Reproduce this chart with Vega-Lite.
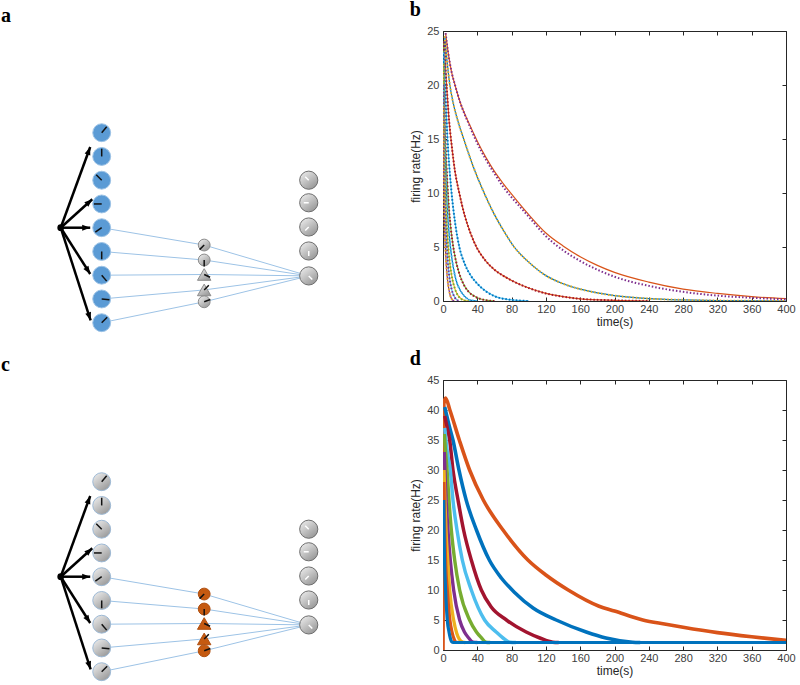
{
"$schema": "https://vega.github.io/schema/vega-lite/v6.json",
"padding": {"left": 0, "top": 0, "right": 0, "bottom": 0},
"background": "white",
"config": {
  "view": {"stroke": null},
  "axis": {"domainColor": "#262626", "tickColor": "#262626", "tickSize": -4, "labelPadding": 8, "grid": false, "labelFont": "Liberation Sans", "labelFontSize": 11, "labelColor": "#404040", "titleFont": "Liberation Sans", "titleFontSize": 12, "titleFontWeight": "normal", "titleColor": "#262626", "titlePadding": 4, "labelFlush": false, "labelOverlap": false},
  "axisX": {"labelPadding": 6, "titlePadding": 2},
  "title": {"font": "Liberation Serif", "fontSize": 20, "fontWeight": "bold", "anchor": "start", "color": "black", "baseline": "top", "offset": 5, "frame": "bounds"}
},
"datasets": {
  "nodes": [
    {"role": "input", "x": 1, "y": 1, "shape": "circle", "ang": 40},
    {"role": "input", "x": 1, "y": 2, "shape": "circle", "ang": 0},
    {"role": "input", "x": 1, "y": 3, "shape": "circle", "ang": 315},
    {"role": "input", "x": 1, "y": 4, "shape": "circle", "ang": 270},
    {"role": "input", "x": 1, "y": 5, "shape": "circle", "ang": 235},
    {"role": "input", "x": 1, "y": 6, "shape": "circle", "ang": 180},
    {"role": "input", "x": 1, "y": 7, "shape": "circle", "ang": 140},
    {"role": "input", "x": 1, "y": 8, "shape": "circle", "ang": 95},
    {"role": "input", "x": 1, "y": 9, "shape": "circle", "ang": 45},
    {"role": "hidden", "x": 3.5, "y": 5.73, "shape": "circle", "ang": 225},
    {"role": "hidden", "x": 3.5, "y": 6.36, "shape": "circle", "ang": 180},
    {"role": "hidden", "x": 3.5, "y": 6.97, "shape": "triangle", "ang": 115},
    {"role": "hidden", "x": 3.5, "y": 7.62, "shape": "triangle", "ang": 45},
    {"role": "hidden", "x": 3.5, "y": 8.12, "shape": "circle", "ang": 70},
    {"role": "output", "x": 6.05, "y": 3, "shape": "circle", "ang": 315},
    {"role": "output", "x": 6.05, "y": 3.95, "shape": "circle", "ang": 270},
    {"role": "output", "x": 6.05, "y": 4.97, "shape": "circle", "ang": 225},
    {"role": "output", "x": 6.05, "y": 5.98, "shape": "circle", "ang": 180},
    {"role": "output", "x": 6.05, "y": 7.03, "shape": "circle", "ang": 135}
  ],
  "links": [
    {"x": 1, "y": 5, "x2": 3.5, "y2": 5.73},
    {"x": 1, "y": 6, "x2": 3.5, "y2": 6.36},
    {"x": 1, "y": 7, "x2": 3.5, "y2": 6.97},
    {"x": 1, "y": 8, "x2": 3.5, "y2": 7.62},
    {"x": 1, "y": 9, "x2": 3.5, "y2": 8.12},
    {"x": 3.5, "y": 5.73, "x2": 6.05, "y2": 7.03},
    {"x": 3.5, "y": 6.36, "x2": 6.05, "y2": 7.03},
    {"x": 3.5, "y": 6.97, "x2": 6.05, "y2": 7.03},
    {"x": 3.5, "y": 7.62, "x2": 6.05, "y2": 7.03},
    {"x": 3.5, "y": 8.12, "x2": 6.05, "y2": 7.03}
  ],
  "arrows": [
    {"x": 0, "y": 5, "x2": 0.72, "y2": 1.6, "ang": 20},
    {"x": 0, "y": 5, "x2": 0.77, "y2": 3.8, "ang": 48},
    {"x": 0, "y": 5, "x2": 0.72, "y2": 5, "ang": 90},
    {"x": 0, "y": 5, "x2": 0.72, "y2": 6.95, "ang": 147.5},
    {"x": 0, "y": 5, "x2": 0.73, "y2": 8.9, "ang": 162}
  ],
  "src": [{"x": 0, "y": 5}],
  "bsim": [
    {"c":"A","t":3,"r":24.8},{"c":"A","t":6,"r":23},{"c":"A","t":10,"r":21.2},{"c":"A","t":14,"r":20},{"c":"A","t":20,"r":18.4},{"c":"A","t":30,"r":16.5},{"c":"A","t":40,"r":14.8},{"c":"A","t":50,"r":13.3},{"c":"A","t":60,"r":12},{"c":"A","t":70,"r":10.9},{"c":"A","t":80,"r":9.9},{"c":"A","t":100,"r":8},{"c":"A","t":120,"r":6.3},{"c":"A","t":140,"r":5.1},{"c":"A","t":160,"r":4.1},{"c":"A","t":180,"r":3.3},{"c":"A","t":200,"r":2.65},{"c":"A","t":240,"r":1.75},{"c":"A","t":280,"r":1.1},{"c":"A","t":320,"r":0.7},{"c":"A","t":360,"r":0.4},{"c":"A","t":400,"r":0.22},
    {"c":"B","t":2,"r":24.5},{"c":"B","t":5,"r":22},{"c":"B","t":8,"r":20},{"c":"B","t":12,"r":18.3},{"c":"B","t":18,"r":16.5},{"c":"B","t":25,"r":14.8},{"c":"B","t":35,"r":12.5},{"c":"B","t":48,"r":10},{"c":"B","t":60,"r":8},{"c":"B","t":70,"r":6.6},{"c":"B","t":83,"r":5},{"c":"B","t":100,"r":3.6},{"c":"B","t":120,"r":2.35},{"c":"B","t":140,"r":1.6},{"c":"B","t":160,"r":1.1},{"c":"B","t":180,"r":0.75},{"c":"B","t":200,"r":0.5},{"c":"B","t":240,"r":0.22},{"c":"B","t":280,"r":0.1},{"c":"B","t":320,"r":0.04},{"c":"B","t":400,"r":0},
    {"c":"C","t":1.5,"r":24},{"c":"C","t":3,"r":21.5},{"c":"C","t":5,"r":19},{"c":"C","t":7,"r":16.8},{"c":"C","t":10,"r":14.5},{"c":"C","t":14,"r":12},{"c":"C","t":19,"r":10},{"c":"C","t":25,"r":8},{"c":"C","t":32,"r":6.3},{"c":"C","t":39,"r":5},{"c":"C","t":50,"r":3.7},{"c":"C","t":60,"r":2.9},{"c":"C","t":70,"r":2.35},{"c":"C","t":80,"r":1.9},{"c":"C","t":100,"r":1.2},{"c":"C","t":120,"r":0.7},{"c":"C","t":140,"r":0.4},{"c":"C","t":160,"r":0.2},{"c":"C","t":200,"r":0.06},{"c":"C","t":240,"r":0},
    {"c":"D","t":1,"r":24},{"c":"D","t":2,"r":21},{"c":"D","t":4,"r":17},{"c":"D","t":6,"r":14},{"c":"D","t":8,"r":11.8},{"c":"D","t":10,"r":10},{"c":"D","t":14,"r":7.3},{"c":"D","t":19,"r":5},{"c":"D","t":25,"r":3.5},{"c":"D","t":32,"r":2.4},{"c":"D","t":40,"r":1.6},{"c":"D","t":50,"r":0.9},{"c":"D","t":60,"r":0.45},{"c":"D","t":75,"r":0.15},{"c":"D","t":100,"r":0},
    {"c":"E","t":0.5,"r":24},{"c":"E","t":1.5,"r":19},{"c":"E","t":3,"r":14.5},{"c":"E","t":5,"r":11},{"c":"E","t":7,"r":8.5},{"c":"E","t":9,"r":6.8},{"c":"E","t":12,"r":5},{"c":"E","t":16,"r":3.4},{"c":"E","t":20,"r":2.3},{"c":"E","t":25,"r":1.4},{"c":"E","t":30,"r":0.85},{"c":"E","t":40,"r":0.3},{"c":"E","t":50,"r":0.08},{"c":"E","t":60,"r":0},
    {"c":"F","t":0.5,"r":23},{"c":"F","t":1.5,"r":17},{"c":"F","t":3,"r":12},{"c":"F","t":5,"r":8.5},{"c":"F","t":8,"r":5.5},{"c":"F","t":11,"r":3.6},{"c":"F","t":15,"r":2},{"c":"F","t":20,"r":1},{"c":"F","t":25,"r":0.45},{"c":"F","t":33,"r":0.05},{"c":"F","t":40,"r":0},
    {"c":"G","t":0.5,"r":22},{"c":"G","t":1.5,"r":14.5},{"c":"G","t":3,"r":9.5},{"c":"G","t":5,"r":6.2},{"c":"G","t":7,"r":4.2},{"c":"G","t":10,"r":2.4},{"c":"G","t":14,"r":1.1},{"c":"G","t":18,"r":0.45},{"c":"G","t":25,"r":0.05},{"c":"G","t":30,"r":0},
    {"c":"H","t":0.4,"r":20},{"c":"H","t":1,"r":14},{"c":"H","t":2,"r":9.5},{"c":"H","t":3,"r":7},{"c":"H","t":5,"r":4.2},{"c":"H","t":7,"r":2.5},{"c":"H","t":10,"r":1.1},{"c":"H","t":14,"r":0.3},{"c":"H","t":18,"r":0},
    {"c":"I","t":0.3,"r":18},{"c":"I","t":0.8,"r":12},{"c":"I","t":1.5,"r":8},{"c":"I","t":3,"r":4.5},{"c":"I","t":5,"r":2.2},{"c":"I","t":7,"r":1},{"c":"I","t":10,"r":0.2},{"c":"I","t":13,"r":0}
  ],
  "bfit": [
    {"c":"A","t":3,"r":24.8},{"c":"A","t":6,"r":23},{"c":"A","t":10,"r":21.2},{"c":"A","t":14,"r":20},{"c":"A","t":20,"r":18.4},{"c":"A","t":30,"r":16.4},{"c":"A","t":40,"r":14.6},{"c":"A","t":50,"r":13.1},{"c":"A","t":60,"r":11.8},{"c":"A","t":70,"r":10.6},{"c":"A","t":80,"r":9.6},{"c":"A","t":90,"r":8.7},{"c":"A","t":100,"r":7.8},{"c":"A","t":120,"r":6},{"c":"A","t":140,"r":4.7},{"c":"A","t":160,"r":3.7},{"c":"A","t":180,"r":2.9},{"c":"A","t":200,"r":2.25},{"c":"A","t":240,"r":1.4},{"c":"A","t":280,"r":0.85},{"c":"A","t":320,"r":0.5},{"c":"A","t":360,"r":0.3},{"c":"A","t":400,"r":0.15},
    {"c":"B","t":2,"r":24.5},{"c":"B","t":5,"r":22},{"c":"B","t":8,"r":20},{"c":"B","t":12,"r":18.3},{"c":"B","t":18,"r":16.5},{"c":"B","t":25,"r":14.8},{"c":"B","t":35,"r":12.5},{"c":"B","t":48,"r":10},{"c":"B","t":60,"r":8},{"c":"B","t":70,"r":6.6},{"c":"B","t":83,"r":5},{"c":"B","t":100,"r":3.6},{"c":"B","t":120,"r":2.35},{"c":"B","t":140,"r":1.6},{"c":"B","t":160,"r":1.1},{"c":"B","t":180,"r":0.75},{"c":"B","t":200,"r":0.5},{"c":"B","t":240,"r":0.22},{"c":"B","t":280,"r":0.1},{"c":"B","t":320,"r":0.04},{"c":"B","t":400,"r":0},
    {"c":"C","t":1.5,"r":24},{"c":"C","t":3,"r":21.5},{"c":"C","t":5,"r":19},{"c":"C","t":7,"r":16.8},{"c":"C","t":10,"r":14.5},{"c":"C","t":14,"r":12},{"c":"C","t":19,"r":10},{"c":"C","t":25,"r":8},{"c":"C","t":32,"r":6.3},{"c":"C","t":39,"r":5},{"c":"C","t":50,"r":3.7},{"c":"C","t":60,"r":2.9},{"c":"C","t":70,"r":2.35},{"c":"C","t":80,"r":1.9},{"c":"C","t":100,"r":1.2},{"c":"C","t":120,"r":0.7},{"c":"C","t":140,"r":0.4},{"c":"C","t":160,"r":0.2},{"c":"C","t":200,"r":0.06},{"c":"C","t":240,"r":0},
    {"c":"D","t":1,"r":24},{"c":"D","t":2,"r":21},{"c":"D","t":4,"r":17},{"c":"D","t":6,"r":14},{"c":"D","t":8,"r":11.8},{"c":"D","t":10,"r":10},{"c":"D","t":14,"r":7.3},{"c":"D","t":19,"r":5},{"c":"D","t":25,"r":3.5},{"c":"D","t":32,"r":2.4},{"c":"D","t":40,"r":1.6},{"c":"D","t":50,"r":0.9},{"c":"D","t":60,"r":0.45},{"c":"D","t":75,"r":0.15},{"c":"D","t":100,"r":0},
    {"c":"E","t":0.5,"r":24},{"c":"E","t":1.5,"r":19},{"c":"E","t":3,"r":14.5},{"c":"E","t":5,"r":11},{"c":"E","t":7,"r":8.5},{"c":"E","t":9,"r":6.8},{"c":"E","t":12,"r":5},{"c":"E","t":16,"r":3.4},{"c":"E","t":20,"r":2.3},{"c":"E","t":25,"r":1.4},{"c":"E","t":30,"r":0.85},{"c":"E","t":40,"r":0.3},{"c":"E","t":50,"r":0.08},{"c":"E","t":60,"r":0},
    {"c":"F","t":0.5,"r":23},{"c":"F","t":1.5,"r":17},{"c":"F","t":3,"r":12},{"c":"F","t":5,"r":8.5},{"c":"F","t":8,"r":5.5},{"c":"F","t":11,"r":3.6},{"c":"F","t":15,"r":2},{"c":"F","t":20,"r":1},{"c":"F","t":25,"r":0.45},{"c":"F","t":33,"r":0.05},{"c":"F","t":40,"r":0},
    {"c":"G","t":0.5,"r":22},{"c":"G","t":1.5,"r":14.5},{"c":"G","t":3,"r":9.5},{"c":"G","t":5,"r":6.2},{"c":"G","t":7,"r":4.2},{"c":"G","t":10,"r":2.4},{"c":"G","t":14,"r":1.1},{"c":"G","t":18,"r":0.45},{"c":"G","t":25,"r":0.05},{"c":"G","t":30,"r":0},
    {"c":"H","t":0.4,"r":20},{"c":"H","t":1,"r":14},{"c":"H","t":2,"r":9.5},{"c":"H","t":3,"r":7},{"c":"H","t":5,"r":4.2},{"c":"H","t":7,"r":2.5},{"c":"H","t":10,"r":1.1},{"c":"H","t":14,"r":0.3},{"c":"H","t":18,"r":0},
    {"c":"I","t":0.3,"r":18},{"c":"I","t":0.8,"r":12},{"c":"I","t":1.5,"r":8},{"c":"I","t":3,"r":4.5},{"c":"I","t":5,"r":2.2},{"c":"I","t":7,"r":1},{"c":"I","t":10,"r":0.2},{"c":"I","t":13,"r":0}
  ],
  "dsim": [
    {"c":"O","t":0,"r":0},{"c":"O","t":1,"r":41},{"c":"O","t":3,"r":42},{"c":"O","t":8,"r":40},{"c":"O","t":19,"r":35},{"c":"O","t":31,"r":30},{"c":"O","t":47,"r":25},{"c":"O","t":70,"r":20},{"c":"O","t":99,"r":15},{"c":"O","t":120,"r":12.5},{"c":"O","t":146,"r":10},{"c":"O","t":182,"r":7.3},{"c":"O","t":200,"r":6.5},{"c":"O","t":233,"r":5},{"c":"O","t":260,"r":4.3},{"c":"O","t":280,"r":3.8},{"c":"O","t":320,"r":2.9},{"c":"O","t":360,"r":2.2},{"c":"O","t":400,"r":1.6},
    {"c":"B1","t":2,"r":40.5},{"c":"B1","t":7,"r":37.5},{"c":"B1","t":11.6,"r":35},{"c":"B1","t":18.6,"r":30},{"c":"B1","t":27,"r":25},{"c":"B1","t":39,"r":20},{"c":"B1","t":54,"r":15},{"c":"B1","t":68,"r":12},{"c":"B1","t":83.5,"r":9.6},{"c":"B1","t":105,"r":7},{"c":"B1","t":132,"r":5},{"c":"B1","t":167,"r":3},{"c":"B1","t":190,"r":2},{"c":"B1","t":221,"r":1.3},{"c":"B1","t":230,"r":1.25},
    {"c":"R","t":2,"r":39},{"c":"R","t":5,"r":37},{"c":"R","t":7.8,"r":35},{"c":"R","t":11.6,"r":30},{"c":"R","t":17.5,"r":25},{"c":"R","t":24,"r":20},{"c":"R","t":33,"r":15},{"c":"R","t":44.7,"r":10},{"c":"R","t":56,"r":7.2},{"c":"R","t":74,"r":5},{"c":"R","t":97,"r":3},{"c":"R","t":113,"r":2},{"c":"R","t":128,"r":1.3},{"c":"R","t":135,"r":1.25},
    {"c":"LB","t":2,"r":37},{"c":"LB","t":5,"r":33},{"c":"LB","t":8.5,"r":30},{"c":"LB","t":11.6,"r":25},{"c":"LB","t":16.3,"r":20},{"c":"LB","t":22.5,"r":15},{"c":"LB","t":33,"r":10},{"c":"LB","t":48.5,"r":5},{"c":"LB","t":62,"r":3},{"c":"LB","t":70,"r":2},{"c":"LB","t":78,"r":1.3},{"c":"LB","t":85,"r":1.25},
    {"c":"G","t":1.5,"r":36},{"c":"G","t":3,"r":33},{"c":"G","t":4.7,"r":30},{"c":"G","t":7,"r":25},{"c":"G","t":9.7,"r":20},{"c":"G","t":13.6,"r":15},{"c":"G","t":19.4,"r":10},{"c":"G","t":31,"r":5},{"c":"G","t":39,"r":3},{"c":"G","t":45,"r":2},{"c":"G","t":50,"r":1.3},{"c":"G","t":55,"r":1.25},
    {"c":"P","t":1.5,"r":33},{"c":"P","t":3,"r":27},{"c":"P","t":5.8,"r":20},{"c":"P","t":8.5,"r":15},{"c":"P","t":12.4,"r":10},{"c":"P","t":19.4,"r":5},{"c":"P","t":25,"r":3},{"c":"P","t":30,"r":2},{"c":"P","t":35,"r":1.3},{"c":"P","t":40,"r":1.25},
    {"c":"Y","t":1.2,"r":30},{"c":"Y","t":2.2,"r":25},{"c":"Y","t":3.5,"r":20},{"c":"Y","t":5.5,"r":15},{"c":"Y","t":7.8,"r":10},{"c":"Y","t":12.4,"r":5},{"c":"Y","t":16,"r":2.8},{"c":"Y","t":19,"r":1.8},{"c":"Y","t":23,"r":1.3},{"c":"Y","t":26,"r":1.25},
    {"c":"O2","t":1,"r":28},{"c":"O2","t":2,"r":20},{"c":"O2","t":3.2,"r":14},{"c":"O2","t":5,"r":10},{"c":"O2","t":8,"r":5},{"c":"O2","t":10.5,"r":3},{"c":"O2","t":13,"r":1.8},{"c":"O2","t":15,"r":1.3},{"c":"O2","t":18,"r":1.25},
    {"c":"B2","t":0.8,"r":25},{"c":"B2","t":1.5,"r":17},{"c":"B2","t":3,"r":10},{"c":"B2","t":5,"r":5},{"c":"B2","t":7,"r":3},{"c":"B2","t":8.5,"r":2},{"c":"B2","t":10,"r":1.4},{"c":"B2","t":12,"r":1.25},{"c":"B2","t":400,"r":1.25}
  ]
},
"columns": 2,
"bounds": "flush",
"spacing": {"row": 79, "column": 43},
"concat": [
  {
    "title": {"text": "a", "dx": 1},
    "width": 400, "height": 270,
    "layer": [
      {"data": {"name": "links"}, "mark": {"type": "rule", "color": "#9dc3e6", "strokeWidth": 1},
       "encoding": {"x": {"field": "x", "type": "quantitative", "scale": {"domain": [-1.4805, 8.276], "nice": false, "zero": false}, "axis": null},
                    "y": {"field": "y", "type": "quantitative", "scale": {"domain": [-3.282, 8.086], "reverse": true, "nice": false, "zero": false}, "axis": null},
                    "x2": {"field": "x2"}, "y2": {"field": "y2"}}},
      {"data": {"name": "arrows"}, "mark": {"type": "rule", "color": "black", "strokeWidth": 2.5},
       "encoding": {"x": {"field": "x", "type": "quantitative", "scale": {"domain": [-1.4805, 8.276], "nice": false, "zero": false}, "axis": null},
                    "y": {"field": "y", "type": "quantitative", "scale": {"domain": [-3.282, 8.086], "reverse": true, "nice": false, "zero": false}, "axis": null},
                    "x2": {"field": "x2"}, "y2": {"field": "y2"}}},
      {"data": {"name": "arrows"}, "mark": {"type": "point", "shape": "M0,0L-0.6,1.6L0.6,1.6Z", "filled": true, "color": "black", "opacity": 1, "size": 100},
       "encoding": {"x": {"field": "x2", "type": "quantitative", "scale": {"domain": [-1.4805, 8.276], "nice": false, "zero": false}, "axis": null},
                    "y": {"field": "y2", "type": "quantitative", "scale": {"domain": [-3.282, 8.086], "reverse": true, "nice": false, "zero": false}, "axis": null},
                    "angle": {"field": "ang", "type": "quantitative", "scale": null}}},
      {"data": {"name": "src"}, "mark": {"type": "point", "shape": "circle", "filled": true, "color": "black", "opacity": 1, "size": 45},
       "encoding": {"x": {"field": "x", "type": "quantitative", "scale": {"domain": [-1.4805, 8.276], "nice": false, "zero": false}, "axis": null},
                    "y": {"field": "y", "type": "quantitative", "scale": {"domain": [-3.282, 8.086], "reverse": true, "nice": false, "zero": false}, "axis": null}}},
      {"data": {"name": "nodes"}, "transform": [{"filter": "datum.role === 'input'"}],
       "mark": {"type": "point", "shape": "circle", "filled": true, "fill": "#5b9bd5", "stroke": "#9dc3e6", "strokeWidth": 1, "opacity": 1, "size": 320},
       "encoding": {"x": {"field": "x", "type": "quantitative", "scale": {"domain": [-1.4805, 8.276], "nice": false, "zero": false}, "axis": null},
                    "y": {"field": "y", "type": "quantitative", "scale": {"domain": [-3.282, 8.086], "reverse": true, "nice": false, "zero": false}, "axis": null}}},
      {"data": {"name": "nodes"}, "transform": [{"filter": "datum.role === 'hidden'"}],
       "mark": {"type": "point", "filled": true, "fill": {"gradient": "linear", "x1": 0.2, "y1": 0.1, "x2": 0.8, "y2": 0.9, "stops": [{"offset": 0, "color": "#e4e4e4"}, {"offset": 1, "color": "#9c9c9c"}]}, "stroke": "#8c8c8c", "strokeWidth": 1, "opacity": 1},
       "encoding": {"x": {"field": "x", "type": "quantitative", "scale": {"domain": [-1.4805, 8.276], "nice": false, "zero": false}, "axis": null},
                    "y": {"field": "y", "type": "quantitative", "scale": {"domain": [-3.282, 8.086], "reverse": true, "nice": false, "zero": false}, "axis": null},
                    "shape": {"field": "shape", "type": "nominal", "scale": {"domain": ["circle", "triangle"], "range": ["circle", "triangle-up"]}, "legend": null},
                    "size": {"field": "shape", "type": "nominal", "scale": {"domain": ["circle", "triangle"], "range": [140, 180]}, "legend": null}}},
      {"data": {"name": "nodes"}, "transform": [{"filter": "datum.role === 'output'"}],
       "mark": {"type": "point", "shape": "circle", "filled": true, "fill": {"gradient": "linear", "x1": 0.2, "y1": 0.1, "x2": 0.8, "y2": 0.9, "stops": [{"offset": 0, "color": "#e4e4e4"}, {"offset": 1, "color": "#9a9a9a"}]}, "stroke": "#6e6e6e", "strokeWidth": 1, "opacity": 1, "size": 330},
       "encoding": {"x": {"field": "x", "type": "quantitative", "scale": {"domain": [-1.4805, 8.276], "nice": false, "zero": false}, "axis": null},
                    "y": {"field": "y", "type": "quantitative", "scale": {"domain": [-3.282, 8.086], "reverse": true, "nice": false, "zero": false}, "axis": null}}},
      {"data": {"name": "nodes"},
       "mark": {"type": "point", "shape": "M0,0L0,-1", "filled": false, "strokeWidth": 1.5, "opacity": 1},
       "encoding": {"x": {"field": "x", "type": "quantitative", "scale": {"domain": [-1.4805, 8.276], "nice": false, "zero": false}, "axis": null},
                    "y": {"field": "y", "type": "quantitative", "scale": {"domain": [-3.282, 8.086], "reverse": true, "nice": false, "zero": false}, "axis": null},
                    "angle": {"field": "ang", "type": "quantitative", "scale": null},
                    "size": {"field": "role", "type": "nominal", "scale": {"domain": ["input", "hidden", "output"], "range": [240, 100, 270]}, "legend": null},
                    "stroke": {"field": "role", "type": "nominal", "scale": {"domain": ["input", "hidden", "output"], "range": ["#111111", "#111111", "#ffffff"]}, "legend": null}}}
    ],
    "resolve": {"scale": {"size": "independent", "shape": "independent"}}
  },
  {
    "title": {"text": "b"},
    "width": 343, "height": 270,
    "layer": [
      {"data": {"name": "bsim"}, "mark": {"type": "line", "interpolate": "monotone", "strokeWidth": 1.2, "clip": true},
       "encoding": {
         "x": {"field": "t", "type": "quantitative", "scale": {"domain": [0, 400], "nice": false}, "axis": {"orient": "bottom", "values": [0, 40, 80, 120, 160, 200, 240, 280, 320, 360, 400], "title": "time(s)"}},
         "y": {"field": "r", "type": "quantitative", "scale": {"domain": [0, 25], "nice": false}, "axis": {"orient": "left", "values": [0, 5, 10, 15, 20, 25], "title": "firing rate(Hz)"}},
         "color": {"field": "c", "type": "nominal", "scale": {"domain": ["A","B","C","D","E","F","G","H","I"], "range": ["#D95319","#0072BD","#D95319","#4DBEEE","#77AC30","#0072BD","#EDB120","#4DBEEE","#7E2F8E"]}, "legend": null}}},
      {"data": {"name": "bfit"}, "mark": {"type": "line", "interpolate": "monotone", "strokeWidth": 2, "strokeDash": [1.5, 2], "clip": true},
       "encoding": {
         "x": {"field": "t", "type": "quantitative", "scale": {"domain": [0, 400], "nice": false}, "axis": {"orient": "top", "values": [0, 40, 80, 120, 160, 200, 240, 280, 320, 360, 400], "labels": false, "title": null}},
         "y": {"field": "r", "type": "quantitative", "scale": {"domain": [0, 25], "nice": false}, "axis": {"orient": "right", "values": [0, 5, 10, 15, 20, 25], "labels": false, "title": null}},
         "color": {"field": "c", "type": "nominal", "scale": {"domain": ["A","B","C","D","E","F","G","H","I"], "range": ["#7E2F8E","#EDB120","#A2142F","#0072BD","#A2142F","#4DBEEE","#77AC30","#7E2F8E","#EDB120"]}, "legend": null}}}
    ],
    "resolve": {"scale": {"color": "independent"}, "axis": {"x": "independent", "y": "independent"}}
  },
  {
    "title": {"text": "c", "dx": 1},
    "width": 400, "height": 270,
    "layer": [
      {"data": {"name": "links"}, "mark": {"type": "rule", "color": "#9dc3e6", "strokeWidth": 1},
       "encoding": {"x": {"field": "x", "type": "quantitative", "scale": {"domain": [-1.4805, 8.276], "nice": false, "zero": false}, "axis": null},
                    "y": {"field": "y", "type": "quantitative", "scale": {"domain": [-3.282, 8.086], "reverse": true, "nice": false, "zero": false}, "axis": null},
                    "x2": {"field": "x2"}, "y2": {"field": "y2"}}},
      {"data": {"name": "arrows"}, "mark": {"type": "rule", "color": "black", "strokeWidth": 2.5},
       "encoding": {"x": {"field": "x", "type": "quantitative", "scale": {"domain": [-1.4805, 8.276], "nice": false, "zero": false}, "axis": null},
                    "y": {"field": "y", "type": "quantitative", "scale": {"domain": [-3.282, 8.086], "reverse": true, "nice": false, "zero": false}, "axis": null},
                    "x2": {"field": "x2"}, "y2": {"field": "y2"}}},
      {"data": {"name": "arrows"}, "mark": {"type": "point", "shape": "M0,0L-0.6,1.6L0.6,1.6Z", "filled": true, "color": "black", "opacity": 1, "size": 100},
       "encoding": {"x": {"field": "x2", "type": "quantitative", "scale": {"domain": [-1.4805, 8.276], "nice": false, "zero": false}, "axis": null},
                    "y": {"field": "y2", "type": "quantitative", "scale": {"domain": [-3.282, 8.086], "reverse": true, "nice": false, "zero": false}, "axis": null},
                    "angle": {"field": "ang", "type": "quantitative", "scale": null}}},
      {"data": {"name": "src"}, "mark": {"type": "point", "shape": "circle", "filled": true, "color": "black", "opacity": 1, "size": 45},
       "encoding": {"x": {"field": "x", "type": "quantitative", "scale": {"domain": [-1.4805, 8.276], "nice": false, "zero": false}, "axis": null},
                    "y": {"field": "y", "type": "quantitative", "scale": {"domain": [-3.282, 8.086], "reverse": true, "nice": false, "zero": false}, "axis": null}}},
      {"data": {"name": "nodes"}, "transform": [{"filter": "datum.role === 'input'"}],
       "mark": {"type": "point", "shape": "circle", "filled": true, "fill": {"gradient": "linear", "x1": 0.2, "y1": 0.1, "x2": 0.8, "y2": 0.9, "stops": [{"offset": 0, "color": "#e4e4e4"}, {"offset": 1, "color": "#9c9c9c"}]}, "stroke": "#9db9d5", "strokeWidth": 1, "opacity": 1, "size": 320},
       "encoding": {"x": {"field": "x", "type": "quantitative", "scale": {"domain": [-1.4805, 8.276], "nice": false, "zero": false}, "axis": null},
                    "y": {"field": "y", "type": "quantitative", "scale": {"domain": [-3.282, 8.086], "reverse": true, "nice": false, "zero": false}, "axis": null}}},
      {"data": {"name": "nodes"}, "transform": [{"filter": "datum.role === 'hidden'"}],
       "mark": {"type": "point", "filled": true, "fill": "#c55a11", "stroke": "#b04f10", "strokeWidth": 1, "opacity": 1},
       "encoding": {"x": {"field": "x", "type": "quantitative", "scale": {"domain": [-1.4805, 8.276], "nice": false, "zero": false}, "axis": null},
                    "y": {"field": "y", "type": "quantitative", "scale": {"domain": [-3.282, 8.086], "reverse": true, "nice": false, "zero": false}, "axis": null},
                    "shape": {"field": "shape", "type": "nominal", "scale": {"domain": ["circle", "triangle"], "range": ["circle", "triangle-up"]}, "legend": null},
                    "size": {"field": "shape", "type": "nominal", "scale": {"domain": ["circle", "triangle"], "range": [140, 180]}, "legend": null}}},
      {"data": {"name": "nodes"}, "transform": [{"filter": "datum.role === 'output'"}],
       "mark": {"type": "point", "shape": "circle", "filled": true, "fill": {"gradient": "linear", "x1": 0.2, "y1": 0.1, "x2": 0.8, "y2": 0.9, "stops": [{"offset": 0, "color": "#e4e4e4"}, {"offset": 1, "color": "#9a9a9a"}]}, "stroke": "#6e6e6e", "strokeWidth": 1, "opacity": 1, "size": 330},
       "encoding": {"x": {"field": "x", "type": "quantitative", "scale": {"domain": [-1.4805, 8.276], "nice": false, "zero": false}, "axis": null},
                    "y": {"field": "y", "type": "quantitative", "scale": {"domain": [-3.282, 8.086], "reverse": true, "nice": false, "zero": false}, "axis": null}}},
      {"data": {"name": "nodes"},
       "mark": {"type": "point", "shape": "M0,0L0,-1", "filled": false, "strokeWidth": 1.5, "opacity": 1},
       "encoding": {"x": {"field": "x", "type": "quantitative", "scale": {"domain": [-1.4805, 8.276], "nice": false, "zero": false}, "axis": null},
                    "y": {"field": "y", "type": "quantitative", "scale": {"domain": [-3.282, 8.086], "reverse": true, "nice": false, "zero": false}, "axis": null},
                    "angle": {"field": "ang", "type": "quantitative", "scale": null},
                    "size": {"field": "role", "type": "nominal", "scale": {"domain": ["input", "hidden", "output"], "range": [240, 100, 270]}, "legend": null},
                    "stroke": {"field": "role", "type": "nominal", "scale": {"domain": ["input", "hidden", "output"], "range": ["#111111", "#111111", "#ffffff"]}, "legend": null}}}
    ],
    "resolve": {"scale": {"size": "independent", "shape": "independent"}}
  },
  {
    "title": {"text": "d"},
    "width": 343, "height": 270,
    "layer": [
      {"data": {"name": "dsim"}, "mark": {"type": "line", "interpolate": "monotone", "clip": true},
       "encoding": {
         "x": {"field": "t", "type": "quantitative", "scale": {"domain": [0, 400], "nice": false}, "axis": {"orient": "bottom", "values": [0, 40, 80, 120, 160, 200, 240, 280, 320, 360, 400], "title": "time(s)"}},
         "y": {"field": "r", "type": "quantitative", "scale": {"domain": [0, 45], "nice": false}, "axis": {"orient": "left", "values": [0, 5, 10, 15, 20, 25, 30, 35, 40, 45], "title": "firing rate(Hz)"}},
         "color": {"field": "c", "type": "nominal", "scale": {"domain": ["O","B1","R","LB","G","P","Y","O2","B2"], "range": ["#D95319","#0072BD","#A2142F","#4DBEEE","#77AC30","#7E2F8E","#EDB120","#D95319","#0072BD"]}, "legend": null},
         "strokeWidth": {"field": "c", "type": "nominal", "scale": {"domain": ["O","B1","R","LB","G","P","Y","O2","B2"], "range": [3.6, 3.2, 3, 2.6, 2.4, 2.2, 2, 2, 2]}, "legend": null}}},
      {"data": {"name": "dsim"}, "mark": {"type": "line", "strokeOpacity": 0, "clip": true},
       "encoding": {
         "x": {"field": "t", "type": "quantitative", "scale": {"domain": [0, 400], "nice": false}, "axis": {"orient": "top", "values": [0, 40, 80, 120, 160, 200, 240, 280, 320, 360, 400], "labels": false, "title": null}},
         "y": {"field": "r", "type": "quantitative", "scale": {"domain": [0, 45], "nice": false}, "axis": {"orient": "right", "values": [0, 5, 10, 15, 20, 25, 30, 35, 40, 45], "labels": false, "title": null}},
         "detail": {"field": "c", "type": "nominal"}}}
    ],
    "resolve": {"axis": {"x": "independent", "y": "independent"}}
  }
]
}
